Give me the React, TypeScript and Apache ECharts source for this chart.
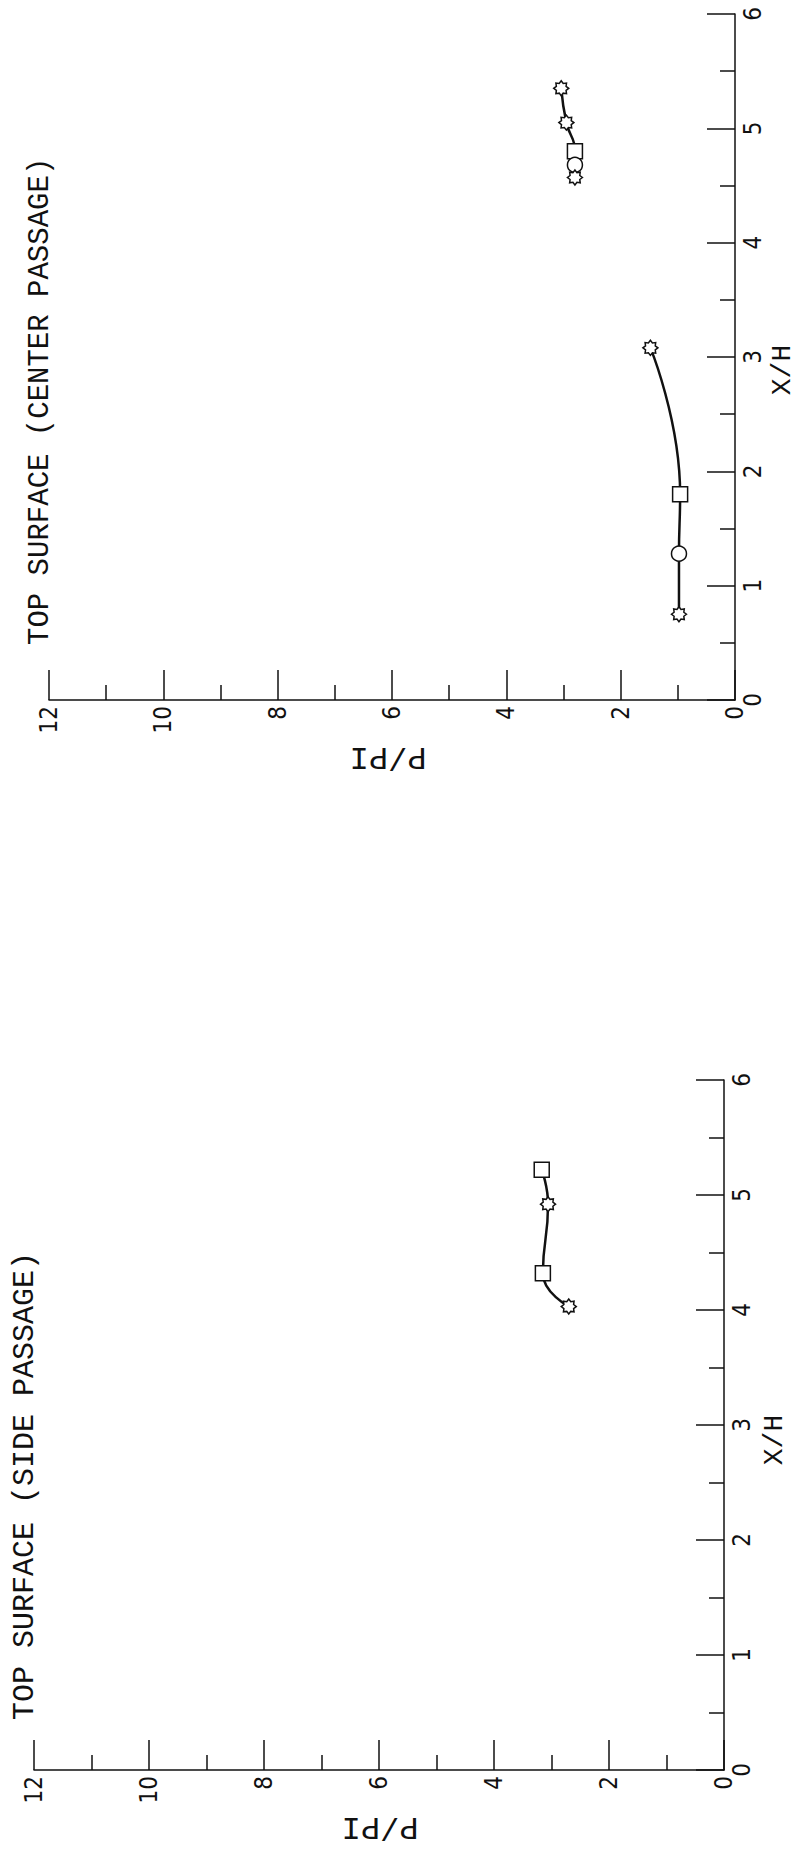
import React, { useEffect, useRef } from "react";
import * as echarts from "echarts";

// ---- data (P/PI, X/H) ----
const pPiTicksMax = 12;
const xhTicksMax = 6;

const STAR =
  "path://M20 10 L16.47 12.68 L17.07 17.07 L12.68 16.47 L10 20 L7.32 16.47 L2.93 17.07 L3.53 12.68 L0 10 L3.53 7.32 L2.93 2.93 L7.32 3.53 L10 0 L12.68 3.53 L17.07 2.93 L16.47 7.32 Z";

// Top plot: TOP SURFACE (CENTER PASSAGE)
const centerFwdPPI = [0.98, 0.98, 0.96, 1.48];
const centerFwdXH = [0.75, 1.28, 1.8, 3.08];
const centerFwdSym = ["star", "circle", "rect", "star"];

const centerAftPPI = [3.04, 2.95, 2.8, 2.8, 2.8];
const centerAftXH = [5.35, 5.05, 4.8, 4.68, 4.57];
const centerAftSym = ["star", "star", "rect", "circle", "star"];

// Bottom plot: TOP SURFACE (SIDE PASSAGE)
const sidePPI = [2.7, 3.15, 3.06, 3.17];
const sideXH = [4.03, 4.32, 4.92, 5.22];
const sideSym = ["star", "rect", "star", "rect"];

const titles = ["TOP SURFACE (CENTER PASSAGE)", "TOP SURFACE (SIDE PASSAGE)"];
const xName = "P/PI";
const yName = "X/H";

const INK = "#111";
const labelFont = "'Liberation Sans Narrow', 'DejaVu Sans Condensed', 'DejaVu Sans', sans-serif";
const monoFont = "'Liberation Mono', 'DejaVu Sans Mono', monospace";

function pts(p: number[], x: number[], s: string[]) {
  return p.map((v, i) => ({ value: [v, x[i]], symbol: s[i] === "star" ? STAR : s[i] }));
}

function xAxisFor(gridIndex: number) {
  return {
    type: "value",
    gridIndex,
    min: 0,
    max: pPiTicksMax,
    interval: 2,
    inverse: true,
    axisLine: { show: true, onZero: false, lineStyle: { color: INK, width: 1.5 } },
    axisTick: { show: true, inside: true, length: 30, lineStyle: { color: INK, width: 1.5 } },
    minorTick: { show: true, splitNumber: 2, length: 15, lineStyle: { color: INK, width: 1.5 } },
    splitLine: { show: false },
    minorSplitLine: { show: false },
    axisLabel: { rotate: 90, margin: 6, fontSize: 24, color: INK, fontFamily: labelFont },
  };
}

function yAxisFor(gridIndex: number) {
  return {
    type: "value",
    gridIndex,
    position: "right",
    min: 0,
    max: xhTicksMax,
    interval: 1,
    axisLine: { show: true, onZero: false, lineStyle: { color: INK, width: 1.5 } },
    axisTick: { show: true, inside: true, length: 28, lineStyle: { color: INK, width: 1.5 } },
    minorTick: { show: true, splitNumber: 2, length: 15, lineStyle: { color: INK, width: 1.5 } },
    splitLine: { show: false },
    minorSplitLine: { show: false },
    axisLabel: { rotate: 90, margin: 6, fontSize: 24, color: INK, fontFamily: labelFont },
  };
}

function lineSeries(gridIndex: number, data: any[]) {
  return {
    type: "line",
    xAxisIndex: gridIndex,
    yAxisIndex: gridIndex,
    smooth: 0.5,
    symbolSize: 15,
    itemStyle: { color: "#fff", borderColor: INK, borderWidth: 1.5 },
    lineStyle: { color: INK, width: 2.5 },
    data,
  };
}

export default function App() {
  const ref = useRef<HTMLDivElement>(null);

  useEffect(() => {
    if (!ref.current) return;
    const chart = echarts.init(ref.current, undefined, { renderer: "svg" });
    chart.setOption({
      animation: false,
      backgroundColor: "#fff",
      grid: [
        { left: 49, top: 14, width: 686, height: 686 },
        { left: 34, top: 1080, width: 690, height: 690 },
      ],
      xAxis: [xAxisFor(0), xAxisFor(1)],
      yAxis: [yAxisFor(0), yAxisFor(1)],
      series: [
        lineSeries(0, pts(centerFwdPPI, centerFwdXH, centerFwdSym)),
        lineSeries(0, pts(centerAftPPI, centerAftXH, centerAftSym)),
        lineSeries(1, pts(sidePPI, sideXH, sideSym)),
      ],
      graphic: [
        {
          type: "text",
          x: 40,
          y: 645,
          rotation: Math.PI / 2,
          style: { text: titles[0], fill: INK, font: `29px ${monoFont}`, align: "left", verticalAlign: "middle" },
        },
        {
          type: "text",
          x: 25,
          y: 1720,
          rotation: Math.PI / 2,
          style: { text: titles[1], fill: INK, font: `30px ${monoFont}`, align: "left", verticalAlign: "middle" },
        },
        {
          type: "text",
          x: 388,
          y: 756,
          rotation: Math.PI,
          style: { text: xName, fill: INK, font: `32px ${monoFont}`, align: "center", verticalAlign: "middle" },
        },
        {
          type: "text",
          x: 380,
          y: 1826,
          rotation: Math.PI,
          style: { text: xName, fill: INK, font: `32px ${monoFont}`, align: "center", verticalAlign: "middle" },
        },
        {
          type: "text",
          x: 782,
          y: 370,
          rotation: Math.PI / 2,
          style: { text: yName, fill: INK, font: `28px ${monoFont}`, align: "center", verticalAlign: "middle" },
        },
        {
          type: "text",
          x: 774,
          y: 1440,
          rotation: Math.PI / 2,
          style: { text: yName, fill: INK, font: `28px ${monoFont}`, align: "center", verticalAlign: "middle" },
        },
      ],
    });
    return () => chart.dispose();
  }, []);

  return (
    <div
      ref={ref}
      style={{ position: "absolute", left: 0, top: 0, width: 799, height: 1849, background: "#fff" }}
    />
  );
}
